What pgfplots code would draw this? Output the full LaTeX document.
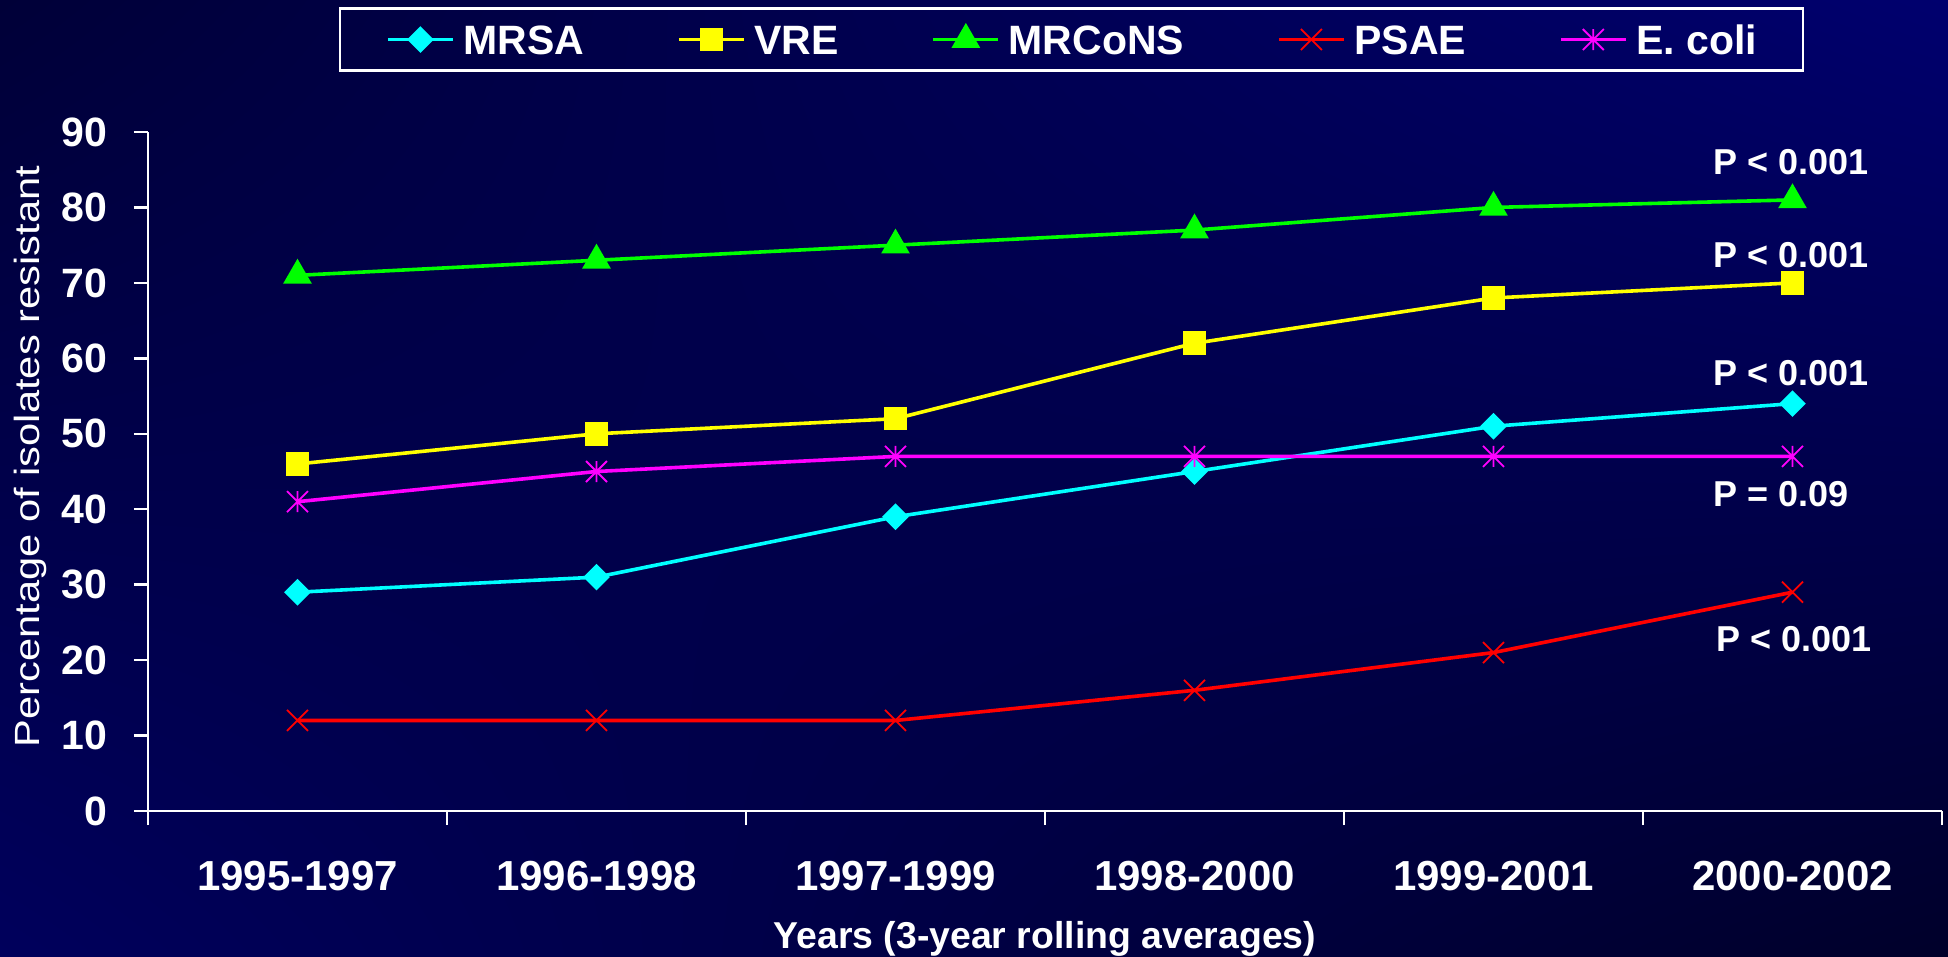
\documentclass[border=0pt]{standalone}
\usepackage{fontspec}
\setmainfont{Liberation Sans}
\usepackage{graphicx}
\usepackage{pgfplots}
\pgfplotsset{compat=1.18}
\usetikzlibrary{shadings}

\definecolor{cMRSA}{RGB}{0,255,255}
\definecolor{cVRE}{RGB}{255,255,0}
\definecolor{cMRCoNS}{RGB}{0,255,0}
\definecolor{cPSAE}{RGB}{255,0,0}
\definecolor{cECOLI}{RGB}{255,0,255}
\definecolor{bgUL}{RGB}{0,0,56}
\definecolor{bgUR}{RGB}{0,0,110}
\definecolor{bgLL}{RGB}{0,0,92}
\definecolor{bgLR}{RGB}{0,0,42}

\pgfdeclareplotmark{bigx}{%
  \pgfpathmoveto{\pgfqpoint{-\pgfplotmarksize}{-\pgfplotmarksize}}%
  \pgfpathlineto{\pgfqpoint{\pgfplotmarksize}{\pgfplotmarksize}}%
  \pgfpathmoveto{\pgfqpoint{-\pgfplotmarksize}{\pgfplotmarksize}}%
  \pgfpathlineto{\pgfqpoint{\pgfplotmarksize}{-\pgfplotmarksize}}%
  \pgfusepathqstroke}
\pgfdeclareplotmark{xstar}{%
  \pgfpathmoveto{\pgfqpoint{-\pgfplotmarksize}{-\pgfplotmarksize}}%
  \pgfpathlineto{\pgfqpoint{\pgfplotmarksize}{\pgfplotmarksize}}%
  \pgfpathmoveto{\pgfqpoint{-\pgfplotmarksize}{\pgfplotmarksize}}%
  \pgfpathlineto{\pgfqpoint{\pgfplotmarksize}{-\pgfplotmarksize}}%
  \pgfpathmoveto{\pgfqpoint{0pt}{-\pgfplotmarksize}}%
  \pgfpathlineto{\pgfqpoint{0pt}{\pgfplotmarksize}}%
  \pgfusepathqstroke}

\newcommand\tickfont{\fontsize{20.5bp}{24bp}\selectfont\bfseries}
\newcommand\xtickfont{\fontsize{21bp}{24bp}\selectfont\bfseries}
\newcommand\legfont{\fontsize{20.5bp}{24bp}\selectfont\bfseries}
\newcommand\pfont{\fontsize{18bp}{21bp}\selectfont\bfseries}
\newcommand\xlabfont{\fontsize{18.7bp}{22bp}\selectfont\bfseries}
\newcommand\ylabfont{\fontsize{17.5bp}{21bp}\selectfont}

\begin{document}
\begin{tikzpicture}
\shade[upper left=bgUL, upper right=bgUR, lower left=bgLL, lower right=bgLR]
  (-74bp,-73bp) rectangle (900bp,405.5bp);
\begin{axis}[
  at={(0,0)}, anchor=south west,
  scale only axis, width=897bp, height=339.5bp,
  xmin=-0.5, xmax=5.5, ymin=0, ymax=90,
  clip=false,
  axis x line*=bottom, axis y line*=left,
  axis line style={white, line width=1.2bp},
  every tick/.style={white, line width=1.2bp},
  tick align=outside,
  major tick length=7bp,
  xtick={-0.5,0.5,1.5,2.5,3.5,4.5,5.5},
  xticklabels={},
  extra x ticks={0,1,2,3,4,5},
  extra x tick labels={1995-1997,1996-1998,1997-1999,1998-2000,1999-2001,2000-2002},
  extra x tick style={major tick length=0pt,
    xticklabel style={anchor=base, yshift=-39.8bp, font=\xtickfont, text=white}},
  ytick={0,10,...,90},
  yticklabel style={font=\tickfont, text=white, anchor=east, inner sep=0pt, xshift=-13bp},
  /pgf/number format/assume math mode=true,
  xlabel={Years (3-year rolling averages)},
  xlabel style={at={(axis description cs:0.5,-0.202)}, anchor=base, font=\xlabfont, text=white},
  ylabel={\scalebox{1.19}[1]{Percentage of isolates resistant}},
  ylabel style={at={(axis description cs:-0.0655,0.522)}, anchor=center, font=\ylabfont, text=white},
  legend columns=5,
  legend style={at={(0.5148,1.1362)}, anchor=center, draw=white, line width=1.2bp,
    fill=none, text=white, font=\legfont,
    inner xsep=23bp, inner ysep=8bp,
    nodes={inner sep=0pt, text height=15bp, text depth=0pt},
    /tikz/every even column/.append style={column sep=46.5bp},
    /tikz/every odd column/.append style={column sep=4.3bp}},
  legend image code/.code={%
    \draw[mark repeat=2,mark phase=2] plot coordinates {(0bp,0bp) (16.25bp,0bp) (32.5bp,0bp)};},
]
\addplot[color=cMRSA, line width=1.8bp, mark=square*, mark size=3.8bp,
  mark options={rotate=45, solid, fill=cMRSA}]
  coordinates {(0,29) (1,31) (2,39) (3,45) (4,51) (5,54)};
\addlegendentry{MRSA}
\addplot[color=cVRE, line width=1.8bp, mark=square*, mark size=5bp,
  mark options={solid, fill=cVRE}]
  coordinates {(0,46) (1,50) (2,52) (3,62) (4,68) (5,70)};
\addlegendentry{VRE}
\addplot[color=cMRCoNS, line width=1.8bp, mark=triangle*, mark size=6.5bp,
  mark options={solid, fill=cMRCoNS}]
  coordinates {(0,71) (1,73) (2,75) (3,77) (4,80) (5,81)};
\addlegendentry{MRCoNS}
\addplot[color=cPSAE, line width=1.8bp, mark=bigx, mark size=5.25bp,
  mark options={solid, line width=0.9bp}]
  coordinates {(0,12) (1,12) (2,12) (3,16) (4,21) (5,29)};
\addlegendentry{PSAE}
\addplot[color=cECOLI, line width=1.8bp, mark=xstar, mark size=5.25bp,
  mark options={solid, line width=0.9bp}]
  coordinates {(0,41) (1,45) (2,47) (3,47) (4,47) (5,47)};
\addlegendentry{E. coli}

\node[anchor=base west, font=\pfont, text=white, inner sep=0pt] at (axis cs:4.734,84.4) {P < 0.001};
\node[anchor=base west, font=\pfont, text=white, inner sep=0pt] at (axis cs:4.734,72.1) {P < 0.001};
\node[anchor=base west, font=\pfont, text=white, inner sep=0pt] at (axis cs:4.734,56.4) {P < 0.001};
\node[anchor=base west, font=\pfont, text=white, inner sep=0pt] at (axis cs:4.734,40.3) {P = 0.09};
\node[anchor=base west, font=\pfont, text=white, inner sep=0pt] at (axis cs:4.745,21.1) {P < 0.001};
\end{axis}
\pgfresetboundingbox
\path[use as bounding box] (-74bp,-73bp) rectangle (900bp,405.5bp);
\end{tikzpicture}
\end{document}
